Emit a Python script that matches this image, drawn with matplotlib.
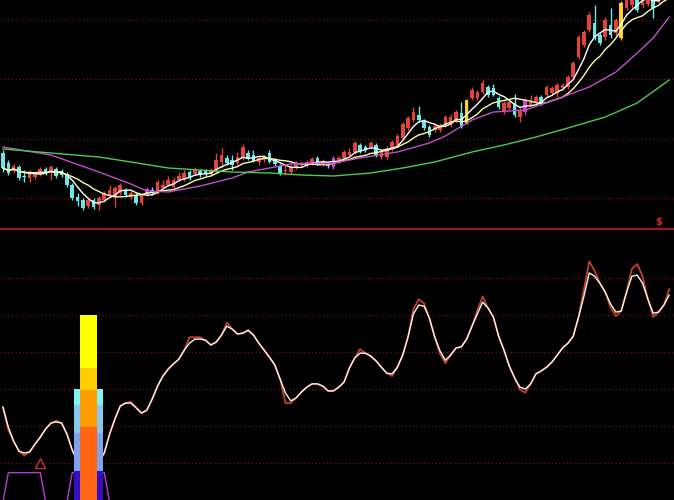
import numpy as np
import pandas as pd
import matplotlib
matplotlib.use("Agg")
import matplotlib.pyplot as plt

# K-line data (price units, one entry per bar)
open_ = [77, 67, 59, 63, 53.5, 52, 53, 56, 61, 58, 61, 59, 56, 45, 33, 30, 24, 30, 25, 30,
         35, 33, 37, 40, 33, 35, 27, 36, 40, 38, 42, 45, 43, 50, 50, 58, 56, 59, 59, 56,
         60, 68, 72, 70, 67, 73, 77, 75, 68, 70, 77, 70, 64, 59, 58, 63, 65.5, 65, 67, 72,
         66, 66, 63, 69, 72, 75, 78, 85, 83, 83, 85, 73, 73, 81, 85, 92, 102, 110, 115, 109,
         103, 100, 100, 105, 105, 110, 117, 107, 132, 132, 138, 143, 142, 132, 119, 122, 127, 113, 118, 125,
         128, 133, 135, 137, 137, 142, 143, 153, 173, 185, 200, 207, 195, 193, 205, 197, 192, 222, 225, 230,
         225, 226, 230, 228, 232, 233]
close = [62, 57, 64, 52, 53, 57, 56, 61, 57, 63, 54, 55, 45, 32, 29, 22, 30, 23, 32, 37,
         40, 42, 45, 35, 37, 27, 34, 41, 37, 48, 45, 50, 50, 54, 57, 52, 61, 55, 56, 60,
         70, 75, 67, 65, 73, 83, 71, 69, 72, 73, 68, 66, 57, 60, 63, 67, 66, 68, 71, 67,
         69, 64, 72, 72, 78, 78, 87, 79, 80, 87, 75, 78, 82, 88, 94, 106, 112, 118, 110, 102,
         95, 104, 105, 113, 113, 118, 103, 130, 140, 138, 147, 135, 135, 123, 127, 128, 115, 120, 130, 128,
         133, 127, 143, 142, 145, 145, 153, 167, 193, 198, 215, 192, 187, 210, 195, 210, 227, 232, 236, 220,
         233, 236, 222, 235, 238, 240]
high = [80, 70, 66, 65, 60, 60, 58, 63, 63, 65, 63, 61, 58, 47, 37, 32, 32, 32, 34, 39,
        45, 44, 47, 42, 39, 37, 36, 43, 43, 50, 50, 54, 53, 58, 60, 60, 63, 61, 61, 62,
        77, 82, 75, 75, 78, 86, 80, 80, 74, 75, 80, 72, 66, 65, 65, 69, 68, 70, 73, 74,
        71, 68, 74, 74, 80, 82, 89, 87, 85, 89, 87, 80, 84, 90, 96, 108, 114, 123, 124, 111,
        105, 106, 107, 115, 116, 120, 128, 131, 143, 140, 150, 145, 146, 134, 129, 130, 136, 122, 132, 135,
        135, 135, 145, 144, 147, 147, 155, 169, 195, 200, 218, 225, 197, 213, 222, 212, 229, 236, 240, 234,
        236, 240, 234, 238, 242, 244]
low = [58, 55, 57, 50, 48, 48, 51, 54, 55, 50, 52, 53, 43, 30, 24, 20, 22, 21, 20, 28,
       33, 23, 35, 33, 31, 25, 25, 34, 35, 36, 40, 44, 42, 49, 49, 50, 55, 53, 54, 54,
       58, 62, 65, 60, 65, 70, 70, 68, 65, 68, 67, 64, 55, 55, 56, 61, 63, 63, 65, 65,
       64, 62, 61, 67, 70, 74, 76, 77, 78, 81, 73, 71, 71, 79, 83, 90, 100, 108, 108, 100,
       93, 98, 98, 103, 103, 108, 102, 106, 130, 130, 136, 133, 134, 121, 116, 120, 113, 108, 115, 124,
       126, 125, 133, 135, 133, 140, 141, 151, 171, 183, 198, 190, 185, 190, 192, 194, 190, 220, 222, 218,
       222, 224, 212, 226, 229, 231]
magenta_bars = [27, 62, 98]
yellow_bars = [87, 116]

# slow moving averages, read at sample bars
ma20_idx = [0, 9, 18, 24, 27, 31, 37, 43, 46, 50, 54, 58, 61, 67, 74, 80, 83, 88, 92, 98, 104, 110, 115, 119, 122, 125]
ma20_val = [83, 75, 58, 46, 39, 38, 44, 52, 58, 62, 66, 67, 66, 72, 78, 87, 94, 110, 118, 120, 131, 143, 158, 177, 192, 213]
ma60_idx = [0, 9, 18, 24, 31, 37, 43, 50, 56, 62, 69, 75, 81, 88, 94, 100, 106, 113, 119, 125]
ma60_val = [81, 77, 73, 68, 62, 60, 58, 57, 55, 54, 57, 62, 68, 78, 85, 93, 102, 113, 127, 150]

# oscillator (lower panel)
osc = [25.1, 19.7, 15.9, 13.2, 12.7, 13.0, 15.1, 17.0, 19.2, 20.8, 21.1, 20.8, 17.8, 13.5, 10.3, 8.6, 8.1, 8.6, 10.3, 12.7,
       17.8, 21.9, 25.4, 26.2, 26.2, 24.9, 23.5, 24.3, 27.3, 30.8, 33.5, 35.4, 36.8, 38.1, 40.5, 42.4, 43.5, 43.5, 43.2, 41.9,
       42.7, 44.6, 47.0, 46.2, 44.9, 45.1, 45.9, 44.6, 42.4, 40.5, 38.6, 36.5, 32.7, 28.9, 26.8, 27.6, 29.2, 30.5, 31.4, 31.4,
       30.8, 29.5, 29.5, 30.5, 31.9, 35.7, 38.4, 39.7, 39.7, 38.9, 37.6, 35.9, 34.3, 34.1, 35.9, 39.2, 44.1, 50.3, 52.7, 52.4,
       49.2, 44.1, 40.3, 37.8, 39.2, 41.1, 41.4, 43.5, 47.0, 50.3, 53.5, 51.9, 49.5, 44.3, 40.5, 36.2, 33.0, 30.5, 30.0, 31.4,
       34.1, 34.9, 35.9, 37.3, 39.2, 41.1, 42.4, 44.3, 49.5, 55.1, 61.4, 60.5, 58.6, 56.2, 53.0, 50.8, 51.1, 56.2, 60.5, 60.8,
       58.6, 54.3, 50.5, 50.8, 52.7, 55.4]
osc_fast = [25.1, 19.0, 15.9, 13.2, 12.0, 13.0, 15.1, 17.0, 19.2, 20.8, 21.5, 20.8, 17.8, 13.5, 10.3, 8.6, 8.1, 8.6, 10.3, 12.7,
            17.8, 21.9, 25.4, 26.2, 26.6, 24.9, 23.5, 24.3, 27.3, 30.8, 33.5, 35.4, 36.8, 38.1, 40.5, 44.0, 44.0, 44.0, 43.2, 41.9,
            42.7, 44.6, 48.0, 46.2, 44.9, 45.1, 45.9, 44.6, 42.4, 40.5, 38.6, 36.5, 32.7, 26.2, 26.2, 27.6, 29.2, 30.5, 31.4, 31.4,
            30.8, 29.5, 29.5, 30.5, 31.9, 35.7, 38.4, 40.8, 39.7, 38.9, 37.6, 35.9, 34.3, 33.5, 35.9, 39.2, 44.1, 51.5, 54.3, 53.2,
            49.2, 44.1, 39.5, 37.0, 39.2, 41.1, 41.4, 43.5, 47.0, 51.2, 55.0, 51.9, 49.5, 44.3, 40.5, 36.2, 33.0, 29.8, 29.0, 31.4,
            34.1, 34.9, 35.9, 37.3, 39.2, 41.1, 42.4, 44.3, 49.5, 57.0, 64.5, 62.0, 58.6, 56.2, 52.0, 49.7, 51.1, 56.2, 62.5, 63.8,
            60.5, 54.3, 49.5, 50.8, 52.7, 57.0]
signal = [0, 1, 1, 1, 1, 1, 1, 1, 0, 0, 0, 0, 0, 1, 1, 1, 1, 1, 1, 1, 0, 0]
mark_idx = 7
mark_val = 10

# stacked bar on bar 16
stack_idx = 16
outer_tops = [30, 25.7, 18.1, 7.8]
outer_colors = ['#80f4f4', '#86c8f0', '#7ea2ee', '#3410c4']
inner_tops = [50, 35.7, 29.7, 19.7]
inner_colors = ['#ffff00', '#ffcc00', '#ff9c00', '#ff6414']

n = len(close)
idx = np.arange(n)
grid_col = '#6a1818'

fig = plt.figure(figsize=(6.74, 5.0), dpi=100, facecolor='black')
ax1 = fig.add_axes([0, 0.542, 1, 0.458])
ax2 = fig.add_axes([0, 0, 1, 0.54])
for ax in (ax1, ax2):
    ax.set_facecolor('black')
    ax.set_xlim(-0.56, 125.9)
    ax.set_xticks([])
    ax.set_yticks([])
    for s in ax.spines.values():
        s.set_visible(False)

# upper panel
ax1.set_ylim(1, 230)
for g in [32, 91.5, 151, 210]:
    ax1.axhline(g, color=grid_col, lw=0.9, ls=(0, (1, 2)), zorder=0)
ax1.spines['bottom'].set_visible(True)
ax1.spines['bottom'].set_color('#a8182a')
ax1.spines['bottom'].set_linewidth(1.3)

o = np.array(open_, dtype=float)
c = np.array(close, dtype=float)
colors = ['#e2443c' if c[i] >= o[i] else '#6ee6e6' for i in range(n)]
for i in magenta_bars:
    colors[i] = '#d040d0'
for i in yellow_bars:
    colors[i] = '#ffd21e'
body = np.maximum(np.abs(c - o), 0.9)
ax1.vlines(idx, low, high, colors=colors, lw=1, zorder=2)
ax1.bar(idx, body, bottom=np.minimum(o, c), width=0.68, color=colors, zorder=3)

cs = pd.Series(c)
ax1.plot(idx, cs.rolling(5, min_periods=1).mean(), color='white', lw=1, zorder=4)
ax1.plot(idx, cs.rolling(10, min_periods=1).mean(), color='#ffffa8', lw=1, zorder=4)
ax1.plot(ma20_idx, ma20_val, color='#c050c8', lw=1, zorder=4)
ax1.plot(ma60_idx, ma60_val, color='#4ccc4c', lw=1, zorder=4)
ax1.text(123.1, 8, '$', color='#e02020', fontsize=7, fontweight='bold', ha='center', va='center')

# lower panel
ax2.set_ylim(0, 73)
for g in [10, 20, 30, 40, 50, 60]:
    ax2.axhline(g, color=grid_col, lw=0.9, ls=(0, (1, 2)), zorder=0)
ax2.plot(idx, osc_fast, color='#c0402c', lw=1.3, zorder=2)
ax2.plot(idx, osc, color='#fff4e8', lw=1, zorder=3)
sig = np.array(signal) * 7.9 - 0.5
ax2.plot(np.arange(len(signal)), sig, color='#b040d0', lw=1, zorder=4)
ax2.plot(mark_idx, mark_val, marker='^', ms=7, mfc='none', mec='#c83232', mew=1, zorder=5)
for top, col in zip(outer_tops, outer_colors):
    ax2.bar(stack_idx, top, width=5.5, color=col, zorder=6)
for top, col in zip(inner_tops, inner_colors):
    ax2.bar(stack_idx, top, width=3.2, color=col, zorder=7)

fig.savefig('out.png', dpi=100, facecolor='black')
